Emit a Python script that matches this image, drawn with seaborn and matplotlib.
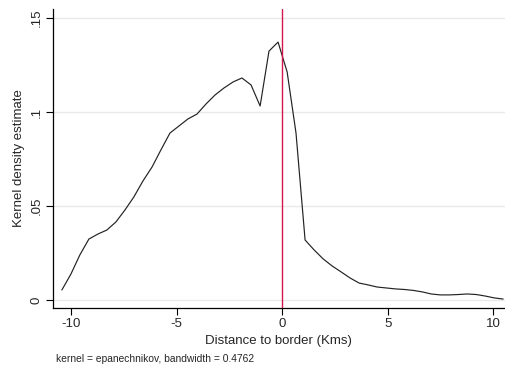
import numpy as np
import pandas as pd
import matplotlib
matplotlib.use("Agg")
import matplotlib.pyplot as plt
import seaborn as sns

# Evaluation grid (50 points, Stata kdensity default) and estimated density
distance = [-10.43, -10.00, -9.58, -9.15, -8.72, -8.30, -7.87, -7.44, -7.02, -6.59,
            -6.16, -5.74, -5.31, -4.88, -4.46, -4.03, -3.60, -3.18, -2.75, -2.32,
            -1.90, -1.47, -1.04, -0.62, -0.19, 0.24, 0.66, 1.09, 1.52, 1.95,
            2.37, 2.80, 3.22, 3.65, 4.08, 4.50, 4.93, 5.36, 5.78, 6.21,
            6.64, 7.06, 7.49, 7.92, 8.34, 8.77, 9.20, 9.62, 10.05, 10.47]
density = [0.0053, 0.0138, 0.0239, 0.0324, 0.0351, 0.0372, 0.0415, 0.0479, 0.0548, 0.0633,
           0.0707, 0.0798, 0.0888, 0.0926, 0.0963, 0.0989, 0.1043, 0.1090, 0.1128, 0.1160,
           0.1181, 0.1144, 0.1032, 0.1324, 0.1372, 0.1213, 0.0888, 0.0319, 0.0266, 0.0218,
           0.0181, 0.0149, 0.0117, 0.0090, 0.0080, 0.0069, 0.0064, 0.0059, 0.0056, 0.0051,
           0.0043, 0.0032, 0.0027, 0.0027, 0.0029, 0.0032, 0.0029, 0.0021, 0.0011, 0.0005]

x_ticks = [-10, -5, 0, 5, 10]
y_ticks = [0, 0.05, 0.1, 0.15]
y_tick_labels = ["0", ".05", ".1", ".15"]
border = 0

df = pd.DataFrame({"distance": distance, "density": density})

sns.set_theme(style="ticks")
plt.rcParams["font.family"] = ["Liberation Sans", "DejaVu Sans"]

fig = plt.figure(figsize=(5.06, 3.66), dpi=100)
ax = fig.add_axes([0.1047, 0.1585, 0.893, 0.8169])

for yt in y_ticks:
    ax.axhline(yt, color="#eaeaea", lw=1.0, zorder=0)

sns.lineplot(data=df, x="distance", y="density", ax=ax, color="#222222",
             lw=0.85, estimator=None, sort=False)
ax.axvline(border, color="#d5174f", lw=1.0, zorder=3)

ax.set_xlim(-10.85, 10.55)
ax.set_ylim(-0.00426, 0.1548)
ax.set_xticks(x_ticks)
ax.set_xticklabels([str(t) for t in x_ticks], fontsize=9.5)
ax.set_yticks(y_ticks)
ax.set_yticklabels(y_tick_labels, fontsize=9.5, rotation=90, va="center")
ax.tick_params(axis="both", direction="out", length=5, width=0.8, color="black",
               pad=2.5)

for s in ["top", "right"]:
    ax.spines[s].set_visible(False)
for s in ["left", "bottom"]:
    ax.spines[s].set_color("black")
    ax.spines[s].set_linewidth(0.9)

ax.set_xlabel("Distance to border (Kms)", fontsize=9.5, labelpad=3)
ax.set_ylabel("Kernel density estimate", fontsize=9.5, labelpad=4)

fig.text(56 / 506, 1 - 359 / 366, "kernel = epanechnikov, bandwidth = 0.4762",
         fontsize=7.4, ha="left", va="center")

fig.savefig("out.png", dpi=100, facecolor="white")
